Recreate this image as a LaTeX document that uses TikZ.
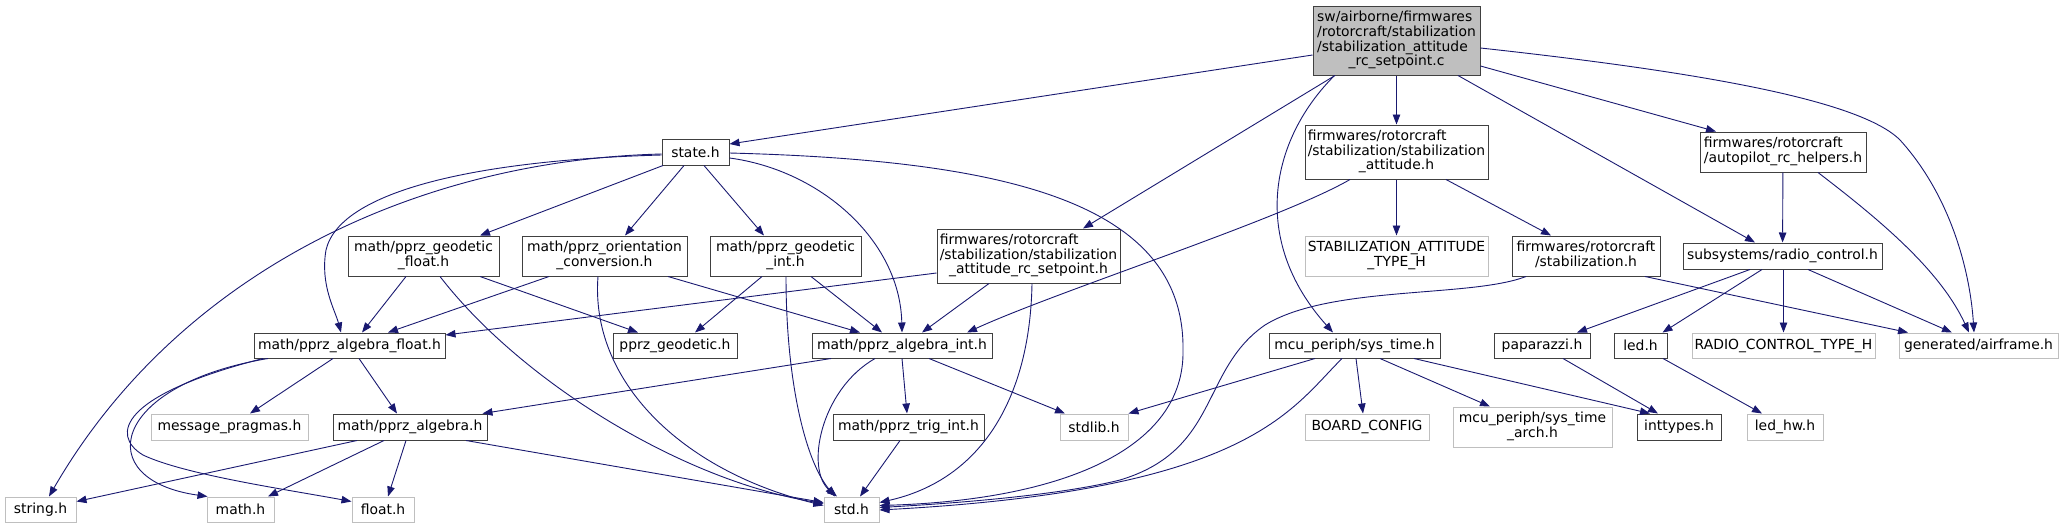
\documentclass[tikz,border=0pt]{standalone}
\usepackage{fontspec}
\setmainfont{DejaVu Sans}
\usetikzlibrary{arrows.meta}
\definecolor{dgray}{HTML}{404040}
\definecolor{lgray}{HTML}{BFBFBF}
\definecolor{eblue}{HTML}{191970}
\newcommand{\mlines}[2]{\begin{tabular}{@{}l@{}}#1\\\multicolumn{1}{@{}c@{}}{#2}\end{tabular}}
\begin{document}
\begin{tikzpicture}[x=1pt,y=-1pt,
 box/.style={draw=dgray, fill=white, line width=1pt, inner sep=0pt, font=\fontsize{13.9}{14.3}\selectfont},
 gbox/.style={box, draw=lgray},
 e/.style={draw=eblue, line width=0.9pt, -{Triangle[length=10pt,width=7.5pt]}}]
\useasboundingbox (0,0) rectangle (2063,528);
% nodes
\node[box, fill=lgray, minimum width=167, minimum height=69] (root) at (1396.5,40.5) {\mlines{sw/airborne/firmwares\\/rotorcraft/stabilization\\/stabilization\_attitude}{\_rc\_setpoint.c}};
\node[box, minimum width=67, minimum height=26] (state) at (695.5,152) {state.h};
\node[box, minimum width=183, minimum height=54] (stabatt) at (1396.5,152) {\mlines{firmwares/rotorcraft\\/stabilization/stabilization}{\_attitude.h}};
\node[box, minimum width=166, minimum height=40] (autopilot) at (1783,152) {\mlines{firmwares/rotorcraft}{/autopilot\_rc\_helpers.h}};
\node[box, minimum width=151, minimum height=40] (geofloat) at (423.5,256) {\mlines{math/pprz\_geodetic}{\_float.h}};
\node[box, minimum width=165, minimum height=40] (orient) at (604.5,256) {\mlines{math/pprz\_orientation}{\_conversion.h}};
\node[box, minimum width=151, minimum height=40] (geoint) at (785.5,256) {\mlines{math/pprz\_geodetic}{\_int.h}};
\node[box, minimum width=183, minimum height=54] (rcsp) at (1028.5,256) {\mlines{firmwares/rotorcraft\\/stabilization/stabilization}{\_attitude\_rc\_setpoint.h}};
\node[gbox, minimum width=183, minimum height=40] (stabtype) at (1396.5,256) {\mlines{STABILIZATION\_ATTITUDE}{\_TYPE\_H}};
\node[box, minimum width=148, minimum height=40] (stabh) at (1586,256) {\mlines{firmwares/rotorcraft}{/stabilization.h}};
\node[box, minimum width=199, minimum height=26] (radio) at (1782.5,256) {subsystems/radio\_control.h};
\node[box, minimum width=191, minimum height=25] (algfloat) at (349.5,345.5) {math/pprz\_algebra\_float.h};
\node[box, minimum width=124, minimum height=25] (pgeod) at (675,345.5) {pprz\_geodetic.h};
\node[box, minimum width=180, minimum height=25] (algint) at (902,345.5) {math/pprz\_algebra\_int.h};
\node[box, minimum width=171, minimum height=25] (systime) at (1354.5,345.5) {mcu\_periph/sys\_time.h};
\node[box, minimum width=96, minimum height=25] (paparazzi) at (1542,345.5) {paparazzi.h};
\node[box, minimum width=53, minimum height=25] (led) at (1640.5,345.5) {led.h};
\node[gbox, minimum width=183, minimum height=25] (radiotype) at (1783.5,345.5) {RADIO\_CONTROL\_TYPE\_H};
\node[gbox, minimum width=159, minimum height=25] (airframe) at (1978.5,345.5) {generated/airframe.h};
\node[gbox, minimum width=157, minimum height=26] (msgprag) at (229.5,427) {message\_pragmas.h};
\node[box, minimum width=154, minimum height=26] (algebra) at (410,427) {math/pprz\_algebra.h};
\node[box, minimum width=151, minimum height=26] (trig) at (908.5,427) {math/pprz\_trig\_int.h};
\node[gbox, minimum width=68, minimum height=26] (stdlib) at (1094,427) {stdlib.h};
\node[gbox, minimum width=124, minimum height=26] (board) at (1367,427) {BOARD\_CONFIG};
\node[gbox, minimum width=159, minimum height=40] (systimearch) at (1532.5,427) {\mlines{mcu\_periph/sys\_time}{\_arch.h}};
\node[box, minimum width=84, minimum height=26] (inttypes) at (1679,427) {inttypes.h};
\node[gbox, minimum width=76, minimum height=26] (ledhw) at (1785,427) {led\_hw.h};
\node[gbox, minimum width=71, minimum height=25] (string) at (40.5,509.5) {string.h};
\node[gbox, minimum width=67, minimum height=25] (math) at (240.5,509.5) {math.h};
\node[gbox, minimum width=62, minimum height=25] (float) at (383,509.5) {float.h};
\node[gbox, minimum width=55, minimum height=25] (std) at (851.5,509.5) {std.h};
% root edges
\draw[e] ([yshift=-14.5]root.west) -- ([yshift=8]state.east);
\draw[e] ([xshift=-61.5]root.south) -- ([xshift=54.5]rcsp.north);
\draw[e] (root) -- (stabatt);
\draw[e] ([xshift=-62]root.south) .. controls (1270,140) and (1250,240) .. ([xshift=-21.5]systime.north);
\draw[e] ([xshift=61.5]root.south) -- ([xshift=-27.5]radio.north);
\draw[e] ([yshift=-25.5]root.east) -- ([xshift=-67]autopilot.north);
\draw[e] ([yshift=-7.5]root.east) .. controls (1700,72) and (1860,100) .. (1900,140) .. controls (1950,195) and (1970,270) .. ([xshift=-4.5]airframe.north);
% state edges
\draw[e] ([yshift=-2]state.west) .. controls (420,160) and (180,270) .. ([xshift=8.5]string.north);
\draw[e] ([yshift=-3]state.west) .. controls (480,160) and (340,190) .. (326,250) .. controls (320,285) and (335,310) .. ([xshift=-8.5]algfloat.north);
\draw[e] ([xshift=-32.5]state.south) -- ([xshift=56.5]geofloat.north);
\draw[e] ([xshift=-11.5]state.south) -- ([xshift=20.5]orient.north);
\draw[e] ([xshift=8.5]state.south) -- ([xshift=-21.5]geoint.north);
\draw[e] ([yshift=-6]state.east) .. controls (820,170) and (900,240) .. (algint.north);
\draw[e] ([yshift=-1]state.east) .. controls (1000,160) and (1185,200) .. (1183,350) .. controls (1185,450) and (1060,500) .. ([yshift=4]std.east);
% geodetic float
\draw[e] ([xshift=-17.5]geofloat.south) -- ([xshift=12.5]algfloat.north);
\draw[e] ([xshift=56.5]geofloat.south) -- ([xshift=-37]pgeod.north);
\draw[e] ([xshift=16.5]geofloat.south) .. controls (520,380) and (680,480) .. ([yshift=6]std.west);
% orientation
\draw[e] ([xshift=-55.5]orient.south) -- ([xshift=38.5]algfloat.north);
\draw[e] ([xshift=-6.5]orient.south) .. controls (590,380) and (680,470) .. ([yshift=4]std.west);
\draw[e] ([xshift=63.5]orient.south) -- ([xshift=-42]algint.north);
% geodetic int
\draw[e] ([xshift=-23.5]geoint.south) -- ([xshift=20]pgeod.north);
\draw[e] ([xshift=0.5]geoint.south) .. controls (786,380) and (805,460) .. ([xshift=-16.5]std.north);
\draw[e] ([xshift=25.5]geoint.south) -- ([xshift=-20]algint.north);
% rc setpoint
\draw[e] ([yshift=-17]rcsp.west) -- ([yshift=10.5]algfloat.east);
\draw[e] ([xshift=-39.5]rcsp.south) -- ([xshift=20]algint.north);
\draw[e] ([xshift=3.5]rcsp.south) .. controls (1030,400) and (980,480) .. ([yshift=7]std.east);
% stabilization attitude
\draw[e] ([xshift=-46.5]stabatt.south) .. controls (1280,220) and (1060,290) .. ([xshift=65]algint.north);
\draw[e] (stabatt) -- (stabtype);
\draw[e] ([xshift=49.5]stabatt.south) -- ([xshift=-35]stabh.north);
% autopilot
\draw[e] (autopilot) -- (radio);
\draw[e] ([xshift=35]autopilot.south) .. controls (1880,220) and (1940,270) .. ([xshift=-9.5]airframe.north);
% stabilization.h
\draw[e] ([xshift=-60]stabh.south) .. controls (1470,298) and (1330,285) .. (1265,325) .. controls (1200,370) and (1220,450) .. (1120,480) .. controls (1060,495) and (960,503) .. ([yshift=2]std.east);
\draw[e] ([xshift=59]stabh.south) -- ([xshift=-70.5]airframe.north);
% radio control
\draw[e] ([xshift=-32.5]radio.south) -- ([xshift=35]paparazzi.north);
\draw[e] ([xshift=-20.5]radio.south) -- ([xshift=22]led.north);
\draw[e] ([xshift=1]radio.south) -- (radiotype.north);
\draw[e] ([xshift=25.5]radio.south) -- ([xshift=-26.5]airframe.north);
% algebra float
\draw[e] ([xshift=-16.5]algfloat.south) -- ([xshift=20.5]msgprag.north);
\draw[e] ([xshift=9.5]algfloat.south) -- ([xshift=-13]algebra.north);
\draw[e] ([xshift=-81.5]algfloat.south) .. controls (110,385) and (90,480) .. ([xshift=1]math.north west);
\draw[e] ([xshift=-86.5]algfloat.south) .. controls (120,395) and (110,435) .. (143,455) .. controls (185,475) and (290,490) .. ([yshift=8]float.west);
% algebra
\draw[e] ([xshift=-53]algebra.south) -- ([yshift=8]string.east);
\draw[e] ([xshift=-26]algebra.south) -- ([xshift=27.5]math.north);
\draw[e] ([xshift=-4]algebra.south) -- ([xshift=5]float.north);
\draw[e] ([xshift=56]algebra.south) -- ([yshift=7]std.west);
% algebra int
\draw[e] ([xshift=-71]algint.south) -- ([xshift=-5]algebra.north east);
\draw[e] ([xshift=-27]algint.south) .. controls (820,390) and (805,470) .. ([xshift=-14.5]std.north);
\draw[e] (algint.south) -- ([xshift=-1.5]trig.north);
\draw[e] ([xshift=27]algint.south) -- ([xshift=-29]stdlib.north);
% trig
\draw[e] ([xshift=-8.5]trig.south) -- ([xshift=8.5]std.north);
% sys time
\draw[e] ([xshift=-39.5]systime.south) -- (stdlib.north east);
\draw[e] ([xshift=-12.5]systime.south) .. controls (1290,410) and (1250,490) .. ([yshift=-0.5]std.east);
\draw[e] ([xshift=1.5]systime.south) -- ([xshift=-4]board.north);
\draw[e] ([xshift=25.5]systime.south) -- ([xshift=-42.5]systimearch.north);
\draw[e] ([xshift=59.5]systime.south) -- ([xshift=-29]inttypes.north);
% paparazzi, led
\draw[e] ([xshift=21]paparazzi.south) -- ([xshift=-21]inttypes.north);
\draw[e] ([xshift=22.5]led.south) -- ([xshift=-23]ledhw.north);
\end{tikzpicture}
\end{document}
